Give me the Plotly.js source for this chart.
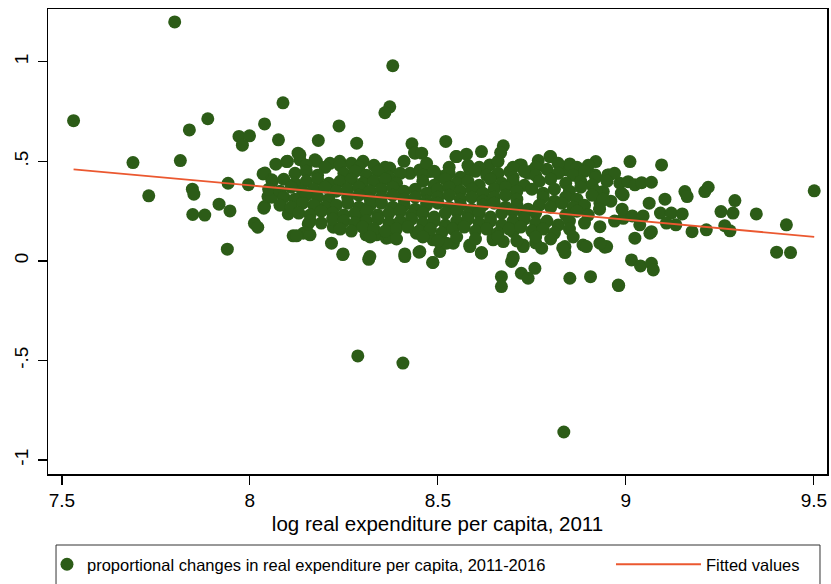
<!DOCTYPE html>
<html>
<head>
<meta charset="utf-8">
<script src="https://cdn.plot.ly/plotly-3.0.1.min.js"></script>
<style>html,body{margin:0;padding:0;background:#fff;}#chart{width:831px;height:584px;}</style>
</head>
<body>
<div id="chart"></div>
<script>
// Sparse / outlying observations [log real expenditure per capita 2011, proportional change 2011-2016]
const outerPoints = [
  [7.531,0.704],[7.80,1.20],[7.888,0.714],[7.839,0.658],[7.971,0.625],[7.999,0.628],[7.980,0.581],
  [8.039,0.688],[7.689,0.494],[7.815,0.504],[8.035,0.437],[7.942,0.390],[7.996,0.383],[7.731,0.327],
  [7.847,0.360],[7.851,0.335],[7.918,0.285],[7.947,0.251],[7.848,0.233],[7.880,0.230],[8.012,0.189],
  [8.021,0.169],[7.940,0.059],[8.048,0.323],[8.039,0.273],
  [8.380,0.980],[8.372,0.774],[8.359,0.744],[8.088,0.794],[8.237,0.678],
  [8.287,-0.477],[8.407,-0.513],[8.835,-0.859]
];
const leftMidPoints = [
  [8.076,0.608],[8.182,0.605],[8.284,0.591],[8.431,0.588],[8.438,0.544],[8.128,0.541],[8.133,0.508],
  [8.069,0.486],[8.098,0.499],[8.040,0.441],[8.058,0.407],[8.058,0.320],[8.037,0.265],[8.102,0.236],
  [8.115,0.126],[8.142,0.139],[8.160,0.131],[8.155,0.186],[8.222,0.169],[8.217,0.089],[8.247,0.032],
  [8.316,0.008],[8.309,0.131],[8.337,0.131],[8.363,0.114],[8.412,0.022],[8.450,0.044],[8.486,-0.008],
  [8.443,0.139],[8.177,0.50],[8.213,0.49],[8.239,0.50],[8.270,0.49],[8.301,0.50],
  [8.124,0.126],[8.248,0.035],[8.319,0.022],[8.372,0.119],[8.412,0.035],[8.452,0.047],[8.487,0.106],
  [8.301,0.223],[8.133,0.533],[8.173,0.508],[8.372,0.466],[8.439,0.541],[8.426,0.44],[8.479,0.449]
];
const midRightPoints = [
  [8.521,0.600],[8.616,0.549],[8.674,0.578],[8.667,0.544],[8.548,0.524],[8.576,0.536],[8.767,0.504],
  [8.800,0.524],[8.920,0.499],[8.851,0.487],[8.842,0.457],[8.956,0.432],[8.718,0.482],[8.745,0.449],
  [8.691,0.449],[8.638,0.482],[8.457,0.541],[8.452,0.457],[8.505,0.424],[8.487,-0.008],[8.669,-0.079],
  [8.669,-0.129],[8.722,-0.062],[8.758,-0.037],[8.740,-0.087],[8.851,-0.087],[8.906,-0.079],
  [8.980,-0.121],[8.700,0.013],[8.696,-0.003],[8.616,0.042],[8.838,0.072],[8.838,0.042],[8.949,0.072],
  [8.647,0.106],[8.674,0.097],[8.727,0.072],[8.776,0.064],[8.585,0.072],[8.541,0.089],[8.505,0.047],
  [8.616,0.039],[8.70,0.02],[8.585,0.08],[8.647,0.115],[8.70,0.147],[8.727,0.08],[8.76,0.09],
  [8.832,0.065],[8.886,0.08],[8.523,0.089],[8.55,0.524],[8.722,0.482],[8.798,0.524],[8.851,0.482],
  [8.74,0.44],[8.523,0.432],[8.585,0.457],[8.918,0.432],[8.952,0.432],[8.895,0.072]
];
const rightPoints = [
  [9.011,0.499],[9.095,0.482],[8.984,0.390],[9.006,0.398],[9.024,0.382],[9.042,0.393],[9.068,0.395],
  [8.993,0.332],[8.940,0.348],[8.931,0.290],[9.062,0.290],[9.104,0.310],[9.157,0.348],[9.163,0.323],
  [9.210,0.348],[9.219,0.370],[9.290,0.303],[9.501,0.352],[9.092,0.240],[9.121,0.240],[9.150,0.236],
  [9.253,0.248],[9.285,0.240],[9.347,0.236],[9.427,0.181],[9.401,0.044],[9.438,0.042],[9.133,0.181],
  [9.176,0.147],[9.214,0.156],[9.263,0.177],[9.277,0.151],[8.993,0.214],[9.017,0.226],[9.046,0.226],
  [9.037,0.181],[9.024,0.114],[9.064,0.139],[9.068,0.147],[9.015,0.005],[9.039,-0.025],[9.068,-0.012],
  [9.073,-0.045],[8.981,-0.124],[8.944,0.069],[8.931,0.089],[8.931,0.172],[8.988,0.34],[9.108,0.19],
  [8.99,0.26],[8.96,0.30],[8.97,0.20]
];
const coreTopPoints = [
  [8.10,0.50],[8.15,0.48],[8.20,0.47],[8.24,0.48],[8.29,0.47],[8.33,0.48],[8.36,0.47],[8.41,0.50],
  [8.47,0.49],[8.53,0.47],[8.58,0.48],[8.61,0.47],[8.66,0.50],[8.70,0.47],[8.76,0.47],[8.82,0.49],
  [8.87,0.47],[8.90,0.48],
  [8.12,0.44],[8.15,0.45],[8.18,0.43],[8.25,0.44],[8.28,0.45],[8.31,0.43],[8.34,0.45],[8.37,0.42],
  [8.40,0.44],[8.46,0.43],[8.49,0.45],[8.53,0.44],[8.56,0.42],[8.60,0.45],[8.63,0.43],[8.66,0.44],
  [8.70,0.42],[8.73,0.45],[8.76,0.43],[8.79,0.46],[8.82,0.44],[8.86,0.43],[8.89,0.45],[8.92,0.42],
  [8.97,0.44],
  [8.06,0.40],[8.09,0.41],[8.12,0.39],[8.15,0.40],[8.18,0.41],[8.21,0.39],[8.24,0.40],[8.27,0.41],
  [8.30,0.39],[8.33,0.40],[8.36,0.41],[8.39,0.39],[8.46,0.40],[8.49,0.38],[8.52,0.41],[8.55,0.39],
  [8.58,0.40],[8.61,0.38],[8.64,0.41],[8.67,0.39],[8.70,0.40],[8.73,0.38],[8.77,0.40],[8.80,0.41],
  [8.84,0.39],[8.88,0.40],[8.91,0.38],[8.95,0.40],
  [8.05,0.36],[8.08,0.35],[8.11,0.37],[8.14,0.35],[8.17,0.36],[8.20,0.37],[8.23,0.35],[8.26,0.36],
  [8.29,0.37],[8.32,0.35],[8.35,0.36],[8.38,0.37],[8.41,0.35],[8.44,0.36],[8.47,0.34],[8.50,0.36],
  [8.53,0.37],[8.56,0.35],[8.59,0.36],[8.62,0.34],[8.65,0.36],[8.68,0.37],[8.71,0.35],[8.75,0.36],
  [8.78,0.34],[8.81,0.36],[8.85,0.35],[8.88,0.37],[8.92,0.35]
];
const coreBottomPoints = [
  [8.09,0.32],[8.12,0.31],[8.15,0.33],[8.18,0.32],[8.21,0.31],[8.26,0.32],[8.29,0.33],[8.32,0.31],
  [8.35,0.32],[8.38,0.33],[8.41,0.31],[8.44,0.32],[8.47,0.30],[8.50,0.32],[8.53,0.33],[8.56,0.31],
  [8.59,0.32],[8.62,0.30],[8.65,0.32],[8.68,0.33],[8.71,0.31],[8.78,0.32],[8.81,0.30],[8.84,0.32],
  [8.87,0.31],[8.91,0.33],[8.94,0.31],
  [8.08,0.28],[8.11,0.27],[8.14,0.29],[8.17,0.28],[8.20,0.27],[8.23,0.28],[8.26,0.29],[8.29,0.27],
  [8.32,0.28],[8.35,0.29],[8.38,0.27],[8.41,0.28],[8.44,0.26],[8.47,0.28],[8.50,0.29],[8.53,0.27],
  [8.56,0.28],[8.59,0.26],[8.62,0.28],[8.65,0.29],[8.68,0.27],[8.71,0.28],[8.74,0.26],[8.77,0.28],
  [8.80,0.27],[8.83,0.29],[8.86,0.27],[8.89,0.28],[8.93,0.26],
  [8.13,0.24],[8.16,0.23],[8.19,0.25],[8.22,0.24],[8.25,0.23],[8.28,0.24],[8.31,0.25],[8.34,0.23],
  [8.37,0.24],[8.40,0.25],[8.43,0.23],[8.46,0.24],[8.49,0.22],[8.52,0.24],[8.55,0.25],[8.58,0.23],
  [8.61,0.24],[8.64,0.22],[8.67,0.24],[8.70,0.25],[8.73,0.23],[8.76,0.24],[8.84,0.23],[8.87,0.25],
  [8.90,0.23],
  [8.16,0.20],[8.19,0.19],[8.22,0.21],[8.25,0.20],[8.28,0.19],[8.31,0.20],[8.34,0.21],[8.37,0.19],
  [8.40,0.20],[8.43,0.21],[8.46,0.19],[8.49,0.20],[8.52,0.18],[8.55,0.20],[8.58,0.21],[8.61,0.19],
  [8.64,0.20],[8.67,0.18],[8.70,0.20],[8.73,0.21],[8.76,0.19],[8.79,0.20],[8.82,0.18],[8.85,0.20],
  [8.89,0.19],
  [8.24,0.16],[8.27,0.15],[8.30,0.17],[8.33,0.16],[8.36,0.15],[8.39,0.16],[8.42,0.17],[8.45,0.15],
  [8.48,0.16],[8.51,0.14],[8.54,0.16],[8.57,0.17],[8.60,0.15],[8.63,0.16],[8.66,0.14],[8.69,0.16],
  [8.72,0.17],[8.75,0.15],[8.78,0.16],[8.81,0.14],[8.85,0.16],
  [8.32,0.12],[8.39,0.11],[8.46,0.12],[8.50,0.10],[8.55,0.12],[8.60,0.11],[8.66,0.12],[8.71,0.10],
  [8.76,0.12],[8.80,0.11],[8.86,0.12]
];
// Fitted line end points
const fitX = [7.531, 9.501];
const fitY = [0.460, 0.121];
// Axis ticks
const xTickVals = [7.5, 8, 8.5, 9, 9.5];
const xTickText = ['7.5', '8', '8.5', '9', '9.5'];
const yTickVals = [-1, -0.5, 0, 0.5, 1];
const yTickText = ['-1', '-.5', '0', '.5', '1'];

const allPoints = [].concat(outerPoints, leftMidPoints, midRightPoints, rightPoints, coreTopPoints, coreBottomPoints);
const ptX = allPoints.map(p => p[0]);
const ptY = allPoints.map(p => p[1]);

const FONT = 'Liberation Sans, Arial, Helvetica, sans-serif';
const traces = [
  {
    type: 'scatter', mode: 'markers', x: ptX, y: ptY,
    name: 'proportional changes in real expenditure per capita, 2011-2016',
    marker: { size: 13, color: '#2c5c17', line: { width: 0 } },
    legend: 'legend'
  },
  {
    type: 'scatter', mode: 'lines', x: fitX, y: fitY,
    name: 'Fitted values',
    line: { color: 'rgb(235,88,48)', width: 1.8 },
    legend: 'legend2'
  }
];
const legendCommon = {
  orientation: 'h', yanchor: 'top', y: -0.157,
  borderwidth: 0, bgcolor: 'rgba(0,0,0,0)',
  font: { size: 16.5, family: FONT }
};
const layout = {
  width: 831, height: 584,
  margin: { l: 48, r: 4, t: 9, b: 110, autoexpand: false },
  paper_bgcolor: '#ffffff', plot_bgcolor: '#ffffff',
  font: { family: FONT, color: '#000' },
  showlegend: true,
  xaxis: {
    range: [7.463, 9.535], tickvals: xTickVals, ticktext: xTickText,
    ticks: 'outside', ticklen: 9, tickwidth: 1.2, tickcolor: '#000',
    showline: true, linecolor: '#000', linewidth: 1.5, mirror: true,
    showgrid: false, zeroline: false,
    tickfont: { size: 19, family: FONT },
    title: { text: 'log real expenditure per capita, 2011', font: { size: 20.5, family: FONT }, standoff: 6 }
  },
  yaxis: {
    range: [-1.07, 1.265], tickvals: yTickVals, ticktext: yTickText,
    ticks: 'outside', ticklen: 9, tickwidth: 1.2, tickcolor: '#000', tickangle: -90,
    showline: true, linecolor: '#000', linewidth: 1.5, mirror: true,
    showgrid: false, zeroline: false, ticklabelstandoff: 2,
    tickfont: { size: 19, family: FONT }
  },
  legend: Object.assign({}, legendCommon, { x: -0.0013, xanchor: 'left', itemwidth: 30 }),
  legend2: Object.assign({}, legendCommon, { x: 0.7227, xanchor: 'left', itemwidth: 85 }),
  shapes: [
    { type: 'rect', xref: 'paper', yref: 'paper', x0: 0.0103, x1: 0.991, y0: -0.1527, y1: -0.26,
      line: { color: '#333', width: 1 }, fillcolor: 'rgba(0,0,0,0)', layer: 'below' }
  ]
};
Plotly.newPlot('chart', traces, layout, { displayModeBar: false, staticPlot: true });
</script>
</body>
</html>
